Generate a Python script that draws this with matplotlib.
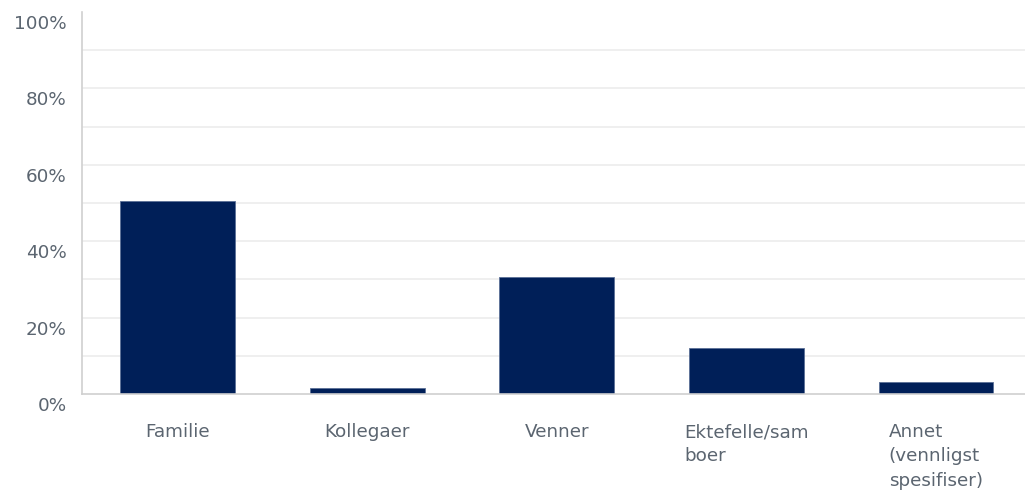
import matplotlib.pyplot as plt
from matplotlib.transforms import ScaledTranslation

plt.rcParams['font.family'] = ['DejaVu Sans']

# Data
categories = ['Familie', 'Kollegaer', 'Venner', 'Ektefelle/sam\nboer', 'Annet\n(vennligst\nspesifiser)']
values = [50.5, 1.6, 30.5, 12.0, 3.1]
y_ticks = [0, 20, 40, 60, 80, 100]
y_tick_labels = ['0%', '20%', '40%', '60%', '80%', '100%']
grid_levels = [10, 20, 30, 40, 50, 60, 70, 80, 90]

bar_color = '#001f58'
text_color = '#5b6570'

fig = plt.figure(figsize=(10.25, 4.96), dpi=100)
ax = fig.add_axes([82 / 1025, 102 / 496, 1 - 82 / 1025, 382 / 496])

for g in grid_levels:
    ax.axhline(g, color='#ececec', linewidth=1.2, zorder=0)

x = list(range(len(categories)))
ax.bar(x, values, width=0.605, color=bar_color, edgecolor='#5a6f96', linewidth=0.6, zorder=2)

ax.set_ylim(0, 100)
ax.set_xlim(-0.505, 4.47)

ax.set_yticks(y_ticks)
ax.set_yticklabels(y_tick_labels, fontsize=13.2, color=text_color)
ax.tick_params(axis='y', length=0, pad=11)
# shift y labels down a bit, like the reference
shift = ScaledTranslation(0, -10 / 100, fig.dpi_scale_trans)
for lbl in ax.get_yticklabels():
    lbl.set_transform(lbl.get_transform() + shift)

ax.set_xticks(x)
ax.set_xticklabels(categories, fontsize=13.2, color=text_color, linespacing=1.45,
                   multialignment='left', va='top')
ax.tick_params(axis='x', length=0, pad=21)

for side in ['top', 'right']:
    ax.spines[side].set_visible(False)
ax.spines['left'].set_color('#d0d0d0')
ax.spines['bottom'].set_color('#cfcfcf')
ax.spines['left'].set_linewidth(1.2)
ax.spines['bottom'].set_linewidth(1.2)

fig.savefig('out.png', dpi=100, facecolor='white')
